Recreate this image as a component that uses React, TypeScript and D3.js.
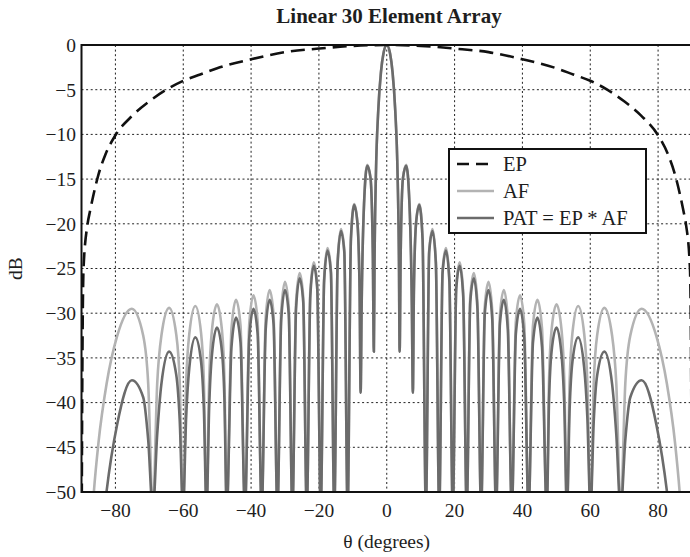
import React from "react";
import * as d3 from "d3";

// Positive half of the pattern (the reference is symmetric about 0°)
const halfTheta = [0, 1.0, 1.7, 2.5, 3.2, 3.6, 3.8, 4.1, 4.78, 5.74, 6.7, 7.4, 7.7, 8.0, 8.63, 9.59, 10.56, 11.54, 12.51, 13.49, 14.48, 15.47, 16.46, 17.46, 18.46, 19.47, 20.49, 21.51, 22.54, 23.58, 24.62, 25.68, 26.74, 27.82, 28.9, 30.0, 31.11, 32.23, 33.37, 34.52, 35.69, 36.87, 38.07, 39.3, 40.54, 41.81, 43.11, 44.43, 45.78, 47.17, 47.87, 48.59, 50.06, 51.57, 52.34, 53.13, 53.93, 54.75, 56.44, 58.21, 59.14, 60.07, 61.04, 62.06, 64.16, 66.44, 67.67, 68.96, 70.33, 71.81, 75.16, 79.52, 82.6, 85.0, 86.4, 87.5];
const halfAF = [0, -1.0, -3.0, -7.3, -14.6, -24.2, -34.3, -23.5, -14.9, -13.4, -17.8, -29.1, -38.9, -27.6, -19.9, -17.8, -21.6, -52, -23.0, -20.6, -24.2, -52, -25.2, -22.7, -26.1, -52, -26.9, -24.3, -27.6, -52, -28.2, -25.5, -28.8, -52, -29.3, -26.5, -29.8, -52, -30.2, -27.4, -30.5, -52, -30.9, -28.0, -31.2, -52, -31.4, -28.5, -31.7, -52, -37.2, -31.9, -29.0, -32.0, -37.4, -52, -37.5, -32.2, -29.2, -32.3, -37.7, -52, -37.7, -32.4, -29.4, -32.5, -37.8, -52, -37.9, -32.5, -29.5, -32.6, -37.9, -44.5, -50.2, -56.5];
const halfPAT = [0, -1.0, -3.0, -7.3, -14.6, -24.2, -34.3, -23.5, -14.9, -13.5, -17.8, -29.1, -38.9, -27.6, -20.0, -17.9, -21.7, -52, -23.2, -20.8, -24.4, -52, -25.5, -23.0, -26.4, -52, -27.3, -24.7, -28.1, -52, -28.8, -26.1, -29.5, -52, -30.1, -27.4, -30.7, -52, -31.2, -28.5, -31.8, -52, -32.3, -29.5, -32.8, -52, -33.3, -30.5, -33.8, -52, -39.5, -34.3, -31.6, -34.8, -40.3, -52, -40.6, -35.4, -32.7, -36.1, -41.6, -52, -42.0, -36.9, -34.3, -37.9, -43.5, -52, -44.2, -39.4, -37.5, -42.5, -49.9, -58.8, -66.2, -74.9];

const halfEPTheta = [0, 10, 20, 30, 40, 50, 55, 60, 65, 70, 75, 80, 83, 85, 86.5, 87.5, 88.2, 89.4, 89.8, 90];
const halfEP = [0, -0.1, -0.4, -0.8, -1.6, -2.6, -3.3, -4.0, -5.0, -6.3, -7.9, -10.1, -12.3, -14.5, -16.8, -18.6, -20.0, -25.0, -40.0, -60];

const xTicks = [-80, -60, -40, -20, 0, 20, 40, 60, 80];
const yTicks = [0, -5, -10, -15, -20, -25, -30, -35, -40, -45, -50];
const legendItems = ["EP", "AF", "PAT = EP * AF"];

function mirror(theta: number[], vals: number[]): [number, number][] {
  const left: [number, number][] = theta.slice(1).map((t, i) => [-t, vals[i + 1]] as [number, number]).reverse();
  const right: [number, number][] = theta.map((t, i) => [t, vals[i]] as [number, number]);
  return [...left, ...right];
}

const W = 690, H = 557;
const L = 81.5, R = 692, T = 45, B = 492;
const FONT = "'Liberation Serif', 'Times New Roman', serif";

export default function App() {
  const x = d3.scaleLinear().domain([-90, 90]).range([L, R]);
  const y = d3.scaleLinear().domain([-50, 0]).range([B, T]);
  const line = d3.line<[number, number]>().x(d => x(d[0])).y(d => y(d[1])).curve(d3.curveMonotoneX);

  const epPath = line(mirror(halfEPTheta, halfEP)) || "";
  const afPath = line(mirror(halfTheta, halfAF)) || "";
  const patPath = line(mirror(halfTheta, halfPAT)) || "";

  const AF_COLOR = "#b3b3b3";
  const PAT_COLOR = "#6b6b6b";
  const TEXT = "#1e1e1e";
  const legX = 449, legY = 149, legW = 197, legH = 84;

  return (
    <svg width={W} height={H} style={{ position: "absolute", left: 0, top: 0, background: "#fff" }} fontFamily={FONT}>
      <defs>
        <clipPath id="plotClip">
          <rect x={L} y={T} width={R - L} height={B - T} />
        </clipPath>
      </defs>
      <rect x={0} y={0} width={W} height={H} fill="#fff" />
      {/* grid */}
      <g stroke="#222" strokeWidth={1} strokeDasharray="2,2.6">
        {xTicks.map(t => (
          <line key={"gx" + t} x1={x(t)} x2={x(t)} y1={T} y2={B} />
        ))}
        {yTicks.filter(t => t !== 0 && t !== -50).map(t => (
          <line key={"gy" + t} x1={L} x2={R} y1={y(t)} y2={y(t)} />
        ))}
      </g>
      <g clipPath="url(#plotClip)" fill="none" strokeLinejoin="round">
        <path d={afPath} stroke={AF_COLOR} strokeWidth={2.6} />
        <path d={patPath} stroke={PAT_COLOR} strokeWidth={2.6} />
        <path d={epPath} stroke="#111" strokeWidth={2.6} strokeDasharray="14,7" />
      </g>
      {/* axes frame */}
      <g stroke="#111" strokeWidth={2} fill="none">
        <line x1={L} x2={R} y1={T} y2={T} />
        <line x1={L} x2={R} y1={B} y2={B} />
        <line x1={L} x2={L} y1={T - 1} y2={B + 1} />
        <line x1={R} x2={R} y1={T} y2={B} />
      </g>
      {/* tick labels */}
      <g fontSize={19.5} fill={TEXT}>
        {yTicks.map(t => (
          <text key={"ty" + t} x={76} y={y(t)} dy="0.35em" textAnchor="end">
            {t < 0 ? "\u2212" + Math.abs(t) : String(t)}
          </text>
        ))}
        {xTicks.map(t => (
          <text key={"tx" + t} x={x(t)} y={517} textAnchor="middle">
            {t < 0 ? "\u2212" + Math.abs(t) : String(t)}
          </text>
        ))}
      </g>
      <text x={x(0)} y={548} textAnchor="middle" fontSize={19.5} fill={TEXT}>θ (degrees)</text>
      <text transform={`translate(22,${(T + B) / 2}) rotate(-90)`} textAnchor="middle" fontSize={19.5} fill={TEXT}>dB</text>
      <text x={389} y={23} textAnchor="middle" fontSize={21} fontWeight="bold" fill={TEXT}>Linear 30 Element Array</text>
      {/* legend */}
      <g>
        <rect x={legX} y={legY} width={legW} height={legH} fill="#fff" stroke="#111" strokeWidth={2} />
        {legendItems.map((name, i) => {
          const cy = legY + 15 + i * 27;
          const stroke = i === 0 ? "#111" : i === 1 ? AF_COLOR : PAT_COLOR;
          return (
            <g key={name}>
              <line x1={legX + 8} x2={legX + 45} y1={cy} y2={cy} stroke={stroke} strokeWidth={2.6} strokeDasharray={i === 0 ? "12,7" : undefined} />
              <text x={legX + 54} y={cy} dy="0.35em" fontSize={20.5} fill={TEXT}>{name}</text>
            </g>
          );
        })}
      </g>
    </svg>
  );
}
